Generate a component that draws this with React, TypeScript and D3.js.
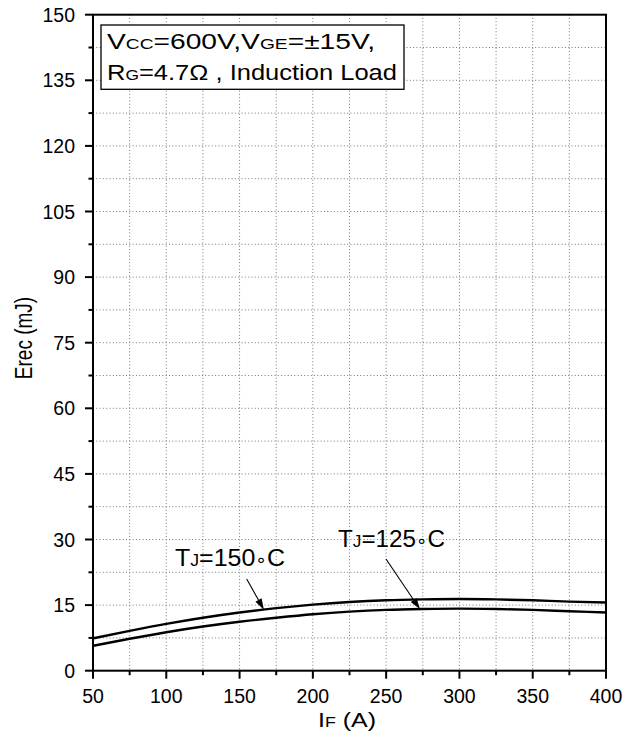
import React from "react";
import * as d3 from "d3";

// Reverse-recovery energy vs forward current
const currents = [50, 75, 100, 125, 150, 175, 200, 225, 250, 275, 300, 325, 350, 375, 400];
const erec150 = [7.4, 9.1, 10.7, 12.1, 13.3, 14.3, 15.1, 15.7, 16.1, 16.3, 16.4, 16.3, 16.1, 15.8, 15.6];
const erec125 = [5.7, 7.3, 8.8, 10.1, 11.2, 12.1, 12.9, 13.5, 13.9, 14.1, 14.2, 14.1, 13.9, 13.6, 13.3];

const xMajorTicks = [50, 100, 150, 200, 250, 300, 350, 400];
const yMajorTicks = [0, 15, 30, 45, 60, 75, 90, 105, 120, 135, 150];

const W = 633;
const H = 740;
const M = { left: 93, right: 606, top: 14.7, bottom: 670.7 };
const FONT = "'Liberation Sans', Arial, Helvetica, sans-serif";

export default function App() {
  const x = d3.scaleLinear().domain([50, 400]).range([M.left, M.right]);
  const y = d3.scaleLinear().domain([0, 150]).range([M.bottom, M.top]);

  const xMinor = d3.range(50, 400.1, 25);
  const yMinor = d3.range(0, 150.1, 7.5);

  const line = d3
    .line<number>()
    .x((_, i) => x(currents[i]))
    .y((d) => y(d))
    .curve(d3.curveMonotoneX);

  const arrow = (x1: number, y1: number, x2: number, y2: number) => {
    const ang = Math.atan2(y2 - y1, x2 - x1);
    const len = 11;
    const half = 3.5;
    const bx = x2 - len * Math.cos(ang);
    const by = y2 - len * Math.sin(ang);
    const px = -Math.sin(ang) * half;
    const py = Math.cos(ang) * half;
    return (
      <g>
        <line x1={x1} y1={y1} x2={bx} y2={by} stroke="#000" strokeWidth={1.1} />
        <path d={`M${x2},${y2}L${bx + px},${by + py}L${bx - px},${by - py}Z`} fill="#000" />
      </g>
    );
  };

  return (
    <svg
      width={W}
      height={H}
      style={{ position: "absolute", left: 0, top: 0, background: "#fff" }}
      fontFamily={FONT}
    >
      <rect x={0} y={0} width={W} height={H} fill="#fff" />
      {/* dotted grid */}
      <g stroke="#777" strokeWidth={1} strokeDasharray="1 2.3">
        {xMinor.slice(1, -1).map((v) => (
          <line key={"gx" + v} x1={x(v)} x2={x(v)} y1={M.top} y2={M.bottom} />
        ))}
        {yMinor.slice(1, -1).map((v) => (
          <line key={"gy" + v} x1={M.left} x2={M.right} y1={y(v)} y2={y(v)} />
        ))}
      </g>

      {/* curves */}
      <path d={line(erec150) || ""} fill="none" stroke="#000" strokeWidth={2.4} />
      <path d={line(erec125) || ""} fill="none" stroke="#000" strokeWidth={2.4} />

      {/* frame */}
      <rect
        x={M.left}
        y={M.top}
        width={M.right - M.left}
        height={M.bottom - M.top}
        fill="none"
        stroke="#000"
        strokeWidth={2}
      />

      {/* ticks */}
      <g stroke="#000" strokeWidth={2}>
        {xMinor.map((v) => (
          <line
            key={"tx" + v}
            x1={x(v)}
            x2={x(v)}
            y1={M.bottom}
            y2={M.bottom + (xMajorTicks.includes(v) ? 8 : 4.5)}
          />
        ))}
        {yMinor.map((v) => (
          <line
            key={"ty" + v}
            x1={M.left}
            x2={M.left - (yMajorTicks.includes(v) ? 8 : 4.5)}
            y1={y(v)}
            y2={y(v)}
          />
        ))}
      </g>

      {/* tick labels */}
      <g fontSize={19.5} fill="#000">
        {xMajorTicks.map((v) => (
          <text key={"lx" + v} x={x(v)} y={703} textAnchor="middle">
            {v}
          </text>
        ))}
        {yMajorTicks.map((v) => (
          <text key={"ly" + v} x={75} y={y(v) + 7} textAnchor="end">
            {v}
          </text>
        ))}
      </g>

      {/* axis titles */}
      <text
        x={318}
        y={727}
        fontSize={21}
        fill="#000"
        textLength={58}
        lengthAdjust="spacingAndGlyphs"
      >
        I<tspan fontSize={15}>F</tspan> (A)
      </text>
      <text
        transform={`translate(32,338) rotate(-90) scale(1,1.25)`}
        textAnchor="middle"
        fontSize={19}
        fill="#000"
      >
        Erec (mJ)
      </text>

      {/* test condition box */}
      <rect x={101} y={25} width={303} height={64.3} fill="#fff" stroke="#000" strokeWidth={1.3} />
      <text
        x={107}
        y={49.3}
        fontSize={22}
        fill="#000"
        textLength={268}
        lengthAdjust="spacingAndGlyphs"
      >
        V<tspan fontSize={15}>CC</tspan>=600V,V<tspan fontSize={15}>GE</tspan>=±15V,
      </text>
      <text
        x={107}
        y={80.3}
        fontSize={22}
        fill="#000"
        textLength={290}
        lengthAdjust="spacingAndGlyphs"
      >
        R<tspan fontSize={15}>G</tspan>=4.7Ω , Induction Load
      </text>

      {/* curve labels */}
      <text x={175} y={566} fontSize={24} fill="#000" textLength={110} lengthAdjust="spacingAndGlyphs">
        T<tspan fontSize={17}>J</tspan>=150<tspan fontFamily="'DejaVu Sans', sans-serif" fontSize={18}>∘</tspan>C
      </text>
      {arrow(246.7, 579, x(166.6), y(erec150[4] + (erec150[5] - erec150[4]) * 0.66))}
      <text x={338} y={546.7} fontSize={24} fill="#000" textLength={107} lengthAdjust="spacingAndGlyphs">
        T<tspan fontSize={17}>J</tspan>=125<tspan fontFamily="'DejaVu Sans', sans-serif" fontSize={18}>∘</tspan>C
      </text>
      {arrow(386, 559, x(273), y(erec125[9] - 0.02))}
    </svg>
  );
}
